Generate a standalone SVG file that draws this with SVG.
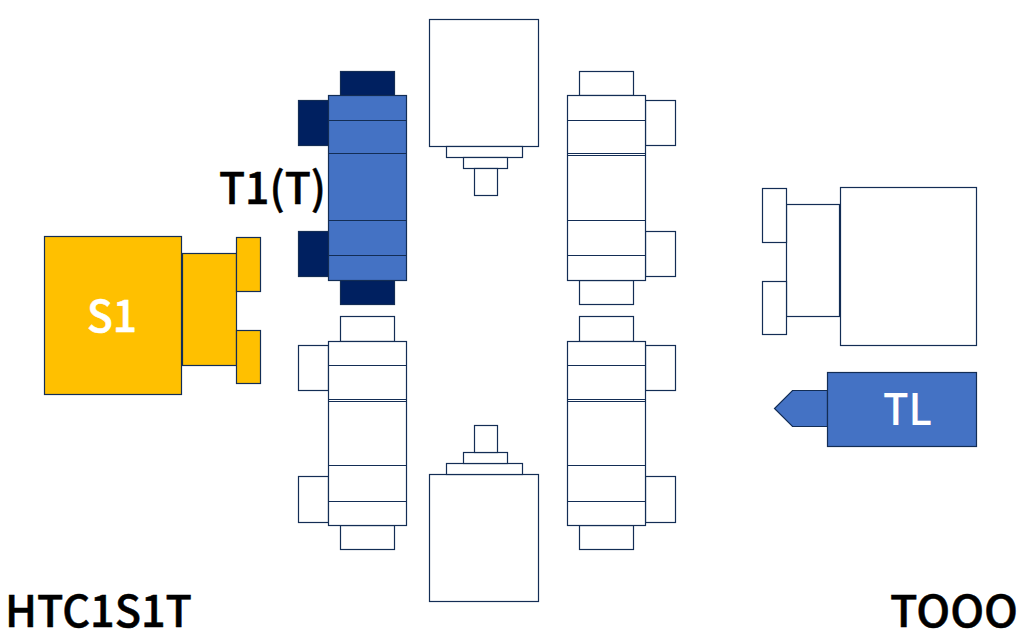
<svg xmlns="http://www.w3.org/2000/svg" width="1024" height="640" viewBox="0 0 1024 640">
<style>
rect,polygon{stroke:#132d55;stroke-width:1.2}
.w{fill:#fff}.b{fill:#4472c4}.d{fill:#002060}.y{fill:#ffc000}
.l{fill:none;stroke:#132d55;stroke-width:1.2}
text{font-family:"Noto Sans CJK SC","Noto Sans","Liberation Sans",sans-serif}
.k{font-size:44px;font-weight:500;fill:#000;stroke:#000;stroke-width:.5}
.t{font-size:44px;font-weight:500;fill:#fff}
</style>
<rect width="1024" height="640" fill="#fff" style="stroke:none"/>
<g id="S1">
<rect class="y" x="44.5" y="236.5" width="137" height="158"/>
<rect class="y" x="182.5" y="253.5" width="54" height="112"/>
<rect class="y" x="236.5" y="237.5" width="24" height="54"/>
<rect class="y" x="236.5" y="330.5" width="24" height="53"/>
<text class="t" x="87" y="332" textLength="50" lengthAdjust="spacingAndGlyphs" style="stroke:#fff;stroke-width:.6">S1</text>
</g>
<g id="T1">
<rect class="d" x="340.5" y="71.5" width="54" height="24"/>
<rect class="d" x="340.5" y="280.5" width="54" height="24"/>
<rect class="d" x="298.5" y="100.5" width="30" height="45"/>
<rect class="d" x="298.5" y="231.5" width="30" height="45"/>
<rect class="b" x="328.5" y="95.5" width="78" height="185"/>
<path class="l" d="M328.5 120.5H406.5M328.5 153.5H406.5M328.5 220.5H406.5M328.5 255.5H406.5"/>
<text class="k" x="219" y="204" textLength="107" lengthAdjust="spacingAndGlyphs">T1(T)</text>
</g>
<g id="T2">
<rect class="w" x="579.5" y="71.5" width="54" height="24"/>
<rect class="w" x="579.5" y="280.5" width="54" height="24"/>
<rect class="w" x="645.5" y="100.5" width="30" height="45"/>
<rect class="w" x="645.5" y="231.5" width="30" height="45"/>
<rect class="w" x="567.5" y="95.5" width="78" height="185"/>
<path class="l" d="M567.5 120.5H645.5M567.5 153.5H645.5M567.5 155.5H645.5M567.5 220.5H645.5M567.5 255.5H645.5"/>
</g>
<g id="T3">
<rect class="w" x="340.5" y="316.5" width="54" height="25"/>
<rect class="w" x="340.5" y="525.5" width="54" height="24"/>
<rect class="w" x="298.5" y="345.5" width="30" height="45"/>
<rect class="w" x="298.5" y="476.5" width="30" height="46"/>
<rect class="w" x="328.5" y="341.5" width="78" height="184"/>
<path class="l" d="M328.5 365.5H406.5M328.5 399.5H406.5M328.5 401.5H406.5M328.5 465.5H406.5M328.5 501.5H406.5"/>
</g>
<g id="T4">
<rect class="w" x="579.5" y="316.5" width="54" height="25"/>
<rect class="w" x="579.5" y="525.5" width="54" height="24"/>
<rect class="w" x="645.5" y="345.5" width="30" height="45"/>
<rect class="w" x="645.5" y="476.5" width="30" height="46"/>
<rect class="w" x="567.5" y="341.5" width="78" height="184"/>
<path class="l" d="M567.5 365.5H645.5M567.5 399.5H645.5M567.5 401.5H645.5M567.5 465.5H645.5M567.5 501.5H645.5"/>
</g>
<g id="spindle-top">
<rect class="w" x="429.5" y="19.5" width="109" height="127"/>
<rect class="w" x="446.5" y="146.5" width="76" height="11"/>
<rect class="w" x="463.5" y="157.5" width="44" height="11"/>
<rect class="w" x="474.5" y="168.5" width="23" height="27"/>
</g>
<g id="spindle-bottom">
<rect class="w" x="429.5" y="474.5" width="109" height="127"/>
<rect class="w" x="446.5" y="463.5" width="76" height="11"/>
<rect class="w" x="463.5" y="452.5" width="44" height="11"/>
<rect class="w" x="474.5" y="425.5" width="23" height="27"/>
</g>
<g id="right-unit">
<rect class="w" x="840.5" y="187.5" width="136" height="158"/>
<rect class="w" x="786.5" y="204.5" width="53" height="112"/>
<rect class="w" x="762.5" y="188.5" width="24" height="54"/>
<rect class="w" x="762.5" y="281.5" width="24" height="53"/>
</g>
<g id="TL">
<polygon class="b" points="827.5,390.5 792.5,390.5 774.5,408.5 792.5,426.5 827.5,426.5"/>
<rect class="b" x="827.5" y="372.5" width="149" height="74"/>
<text class="t" x="883" y="425" textLength="49" lengthAdjust="spacingAndGlyphs">TL</text>
</g>
<g id="labels">
<text class="k" x="5" y="627" textLength="187" lengthAdjust="spacingAndGlyphs">HTC1S1T</text>
<text class="k" x="890" y="627" textLength="128" lengthAdjust="spacingAndGlyphs">TOOO</text>
</g>
<g id="connectors"/>
</svg>
